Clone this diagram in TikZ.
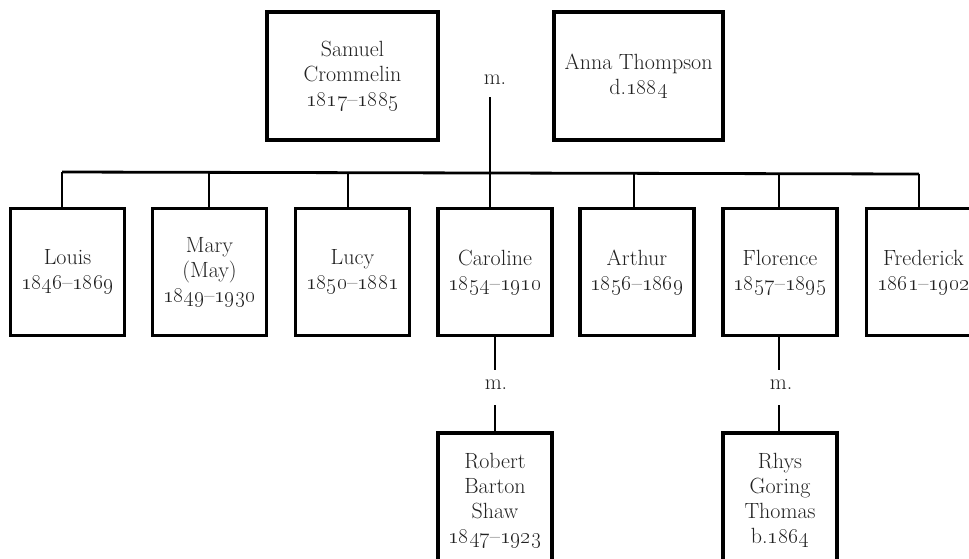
\documentclass[tikz,border=0pt]{standalone}
\usepackage{fix-cm}
\definecolor{txt}{HTML}{222222}
\newcommand{\os}[1]{\oldstylenums{#1}}
\tikzset{
  person/.style={draw=black, line width=3.8pt, minimum width=114pt, minimum height=127pt,
    align=center, text=txt, font=\fontsize{22}{25}\selectfont, inner sep=0pt},
  marr/.style={text=txt, font=\fontsize{22}{25}\selectfont, inner sep=0pt},
  link/.style={draw=black, line width=2.8pt}
}
\begin{document}
\begin{tikzpicture}[x=1pt,y=-1pt]
\clip (0,0) rectangle (969,558);
\fill[white] (0,0) rectangle (969,558);
% parents
\node[person, minimum width=171pt, minimum height=128pt] (samuel) at (352.5,76) {Samuel\\Crommelin\\\os{1817}--\os{1885}};
\node[person, minimum width=169pt, minimum height=128pt] (anna) at (638.5,76) {Anna Thompson\\d.\os{1884}};
\node[marr] (m0) at (495,80) {m.};
% children
\node[person] (louis) at (67.5,272) {Louis\\\os{1846}--\os{1869}};
\node[person] (mary) at (209.5,272) {Mary\\(May)\\\os{1849}--\os{1930}};
\node[person] (lucy) at (352.5,272) {Lucy\\\os{1850}--\os{1881}};
\node[person] (caroline) at (495,272) {Caroline\\\os{1854}--\os{1910}};
\node[person] (arthur) at (637,272) {Arthur\\\os{1856}--\os{1869}};
\node[person] (florence) at (780,272) {Florence\\\os{1857}--\os{1895}};
\node[person] (frederick) at (923.5,272) {Frederick\\\os{1861}--\os{1902}};
% spouses
\node[marr] (m1) at (496,385) {m.};
\node[marr] (m2) at (781,385) {m.};
\node[person, minimum height=134pt] (robert) at (495,500) {Robert\\Barton\\Shaw\\\os{1847}--\os{1923}};
\node[person, minimum height=134pt] (rhys) at (780,500) {Rhys\\Goring\\Thomas\\b.\os{1864}};
% bus
\coordinate (b0) at (62,172);
\coordinate (b1) at (209,172);
\coordinate (b2) at (348,172);
\coordinate (b3) at (490,173);
\coordinate (b4) at (634,173);
\coordinate (b5) at (779,174);
\coordinate (b6) at (919,174);
\coordinate (mtop) at (490,97);
\draw[link] (b0) -- (b6);
\draw[link] (mtop) -- (b3 |- caroline.north);
\draw[link] (b0) -- (b0 |- louis.north);
\draw[link] (b1) -- (b1 |- mary.north);
\draw[link] (b2) -- (b2 |- lucy.north);
\draw[link] (b4) -- (b4 |- arthur.north);
\draw[link] (b5) -- (b5 |- florence.north);
\draw[link] (b6) -- (b6 |- frederick.north);
% marriage links
\coordinate (c1) at (495,370);
\coordinate (c2) at (495,405);
\coordinate (d1) at (779,370);
\coordinate (d2) at (779,405);
\draw[link] (c1 |- caroline.south) -- (c1);
\draw[link] (c2) -- (c2 |- robert.north);
\draw[link] (d1 |- florence.south) -- (d1);
\draw[link] (d2) -- (d2 |- rhys.north);
\end{tikzpicture}
\end{document}
